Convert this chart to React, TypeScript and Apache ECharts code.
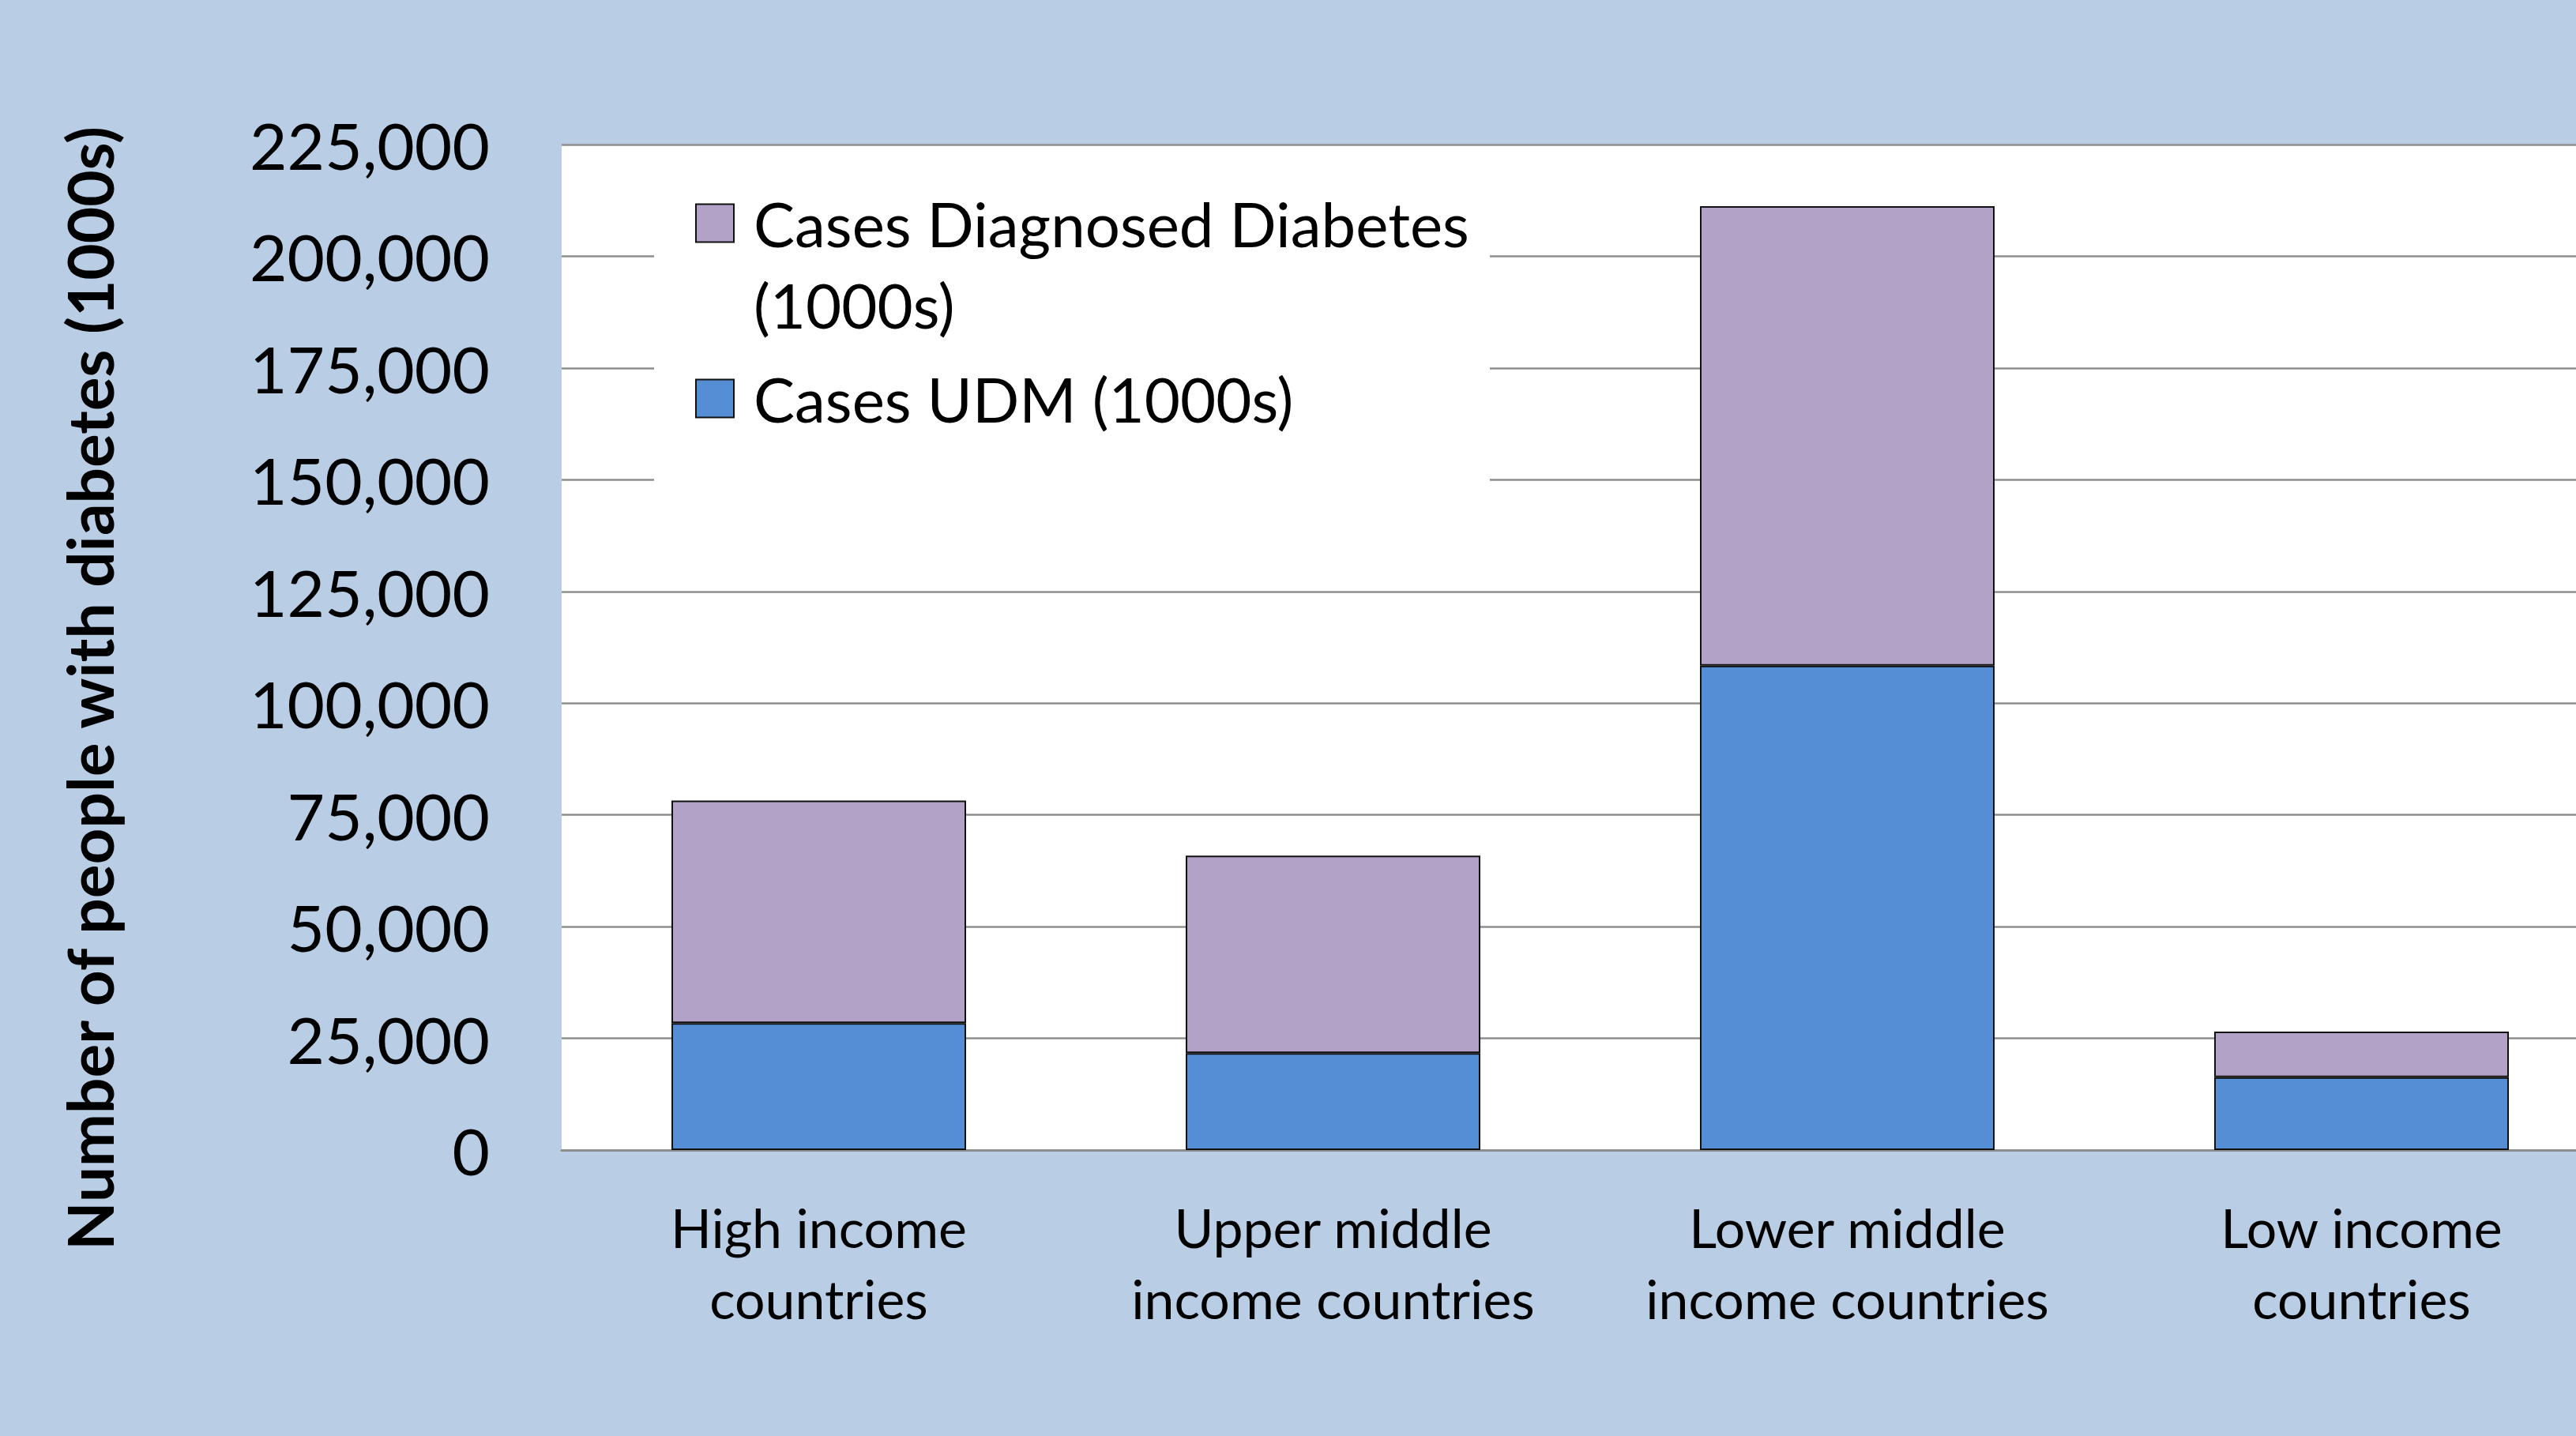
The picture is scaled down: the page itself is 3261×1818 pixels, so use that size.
import React, { useEffect, useRef } from "react";
import * as echarts from "echarts";

const categories = [
  "High income\ncountries",
  "Upper middle\nincome countries",
  "Lower middle\nincome countries",
  "Low income\ncountries",
];
const udmName = "Cases UDM (1000s)";
const diagName = "Cases Diagnosed Diabetes (1000s)";
const udmValues = [28400, 21700, 108400, 16300];
const diagnosedValues = [49800, 44200, 102800, 10200];
const yTicks = { min: 0, max: 225000, interval: 25000 };
const yAxisTitle = "Number of people with diabetes (1000s)";

const FONT = "Lato";

export default function App() {
  const ref = useRef<HTMLDivElement>(null);
  useEffect(() => {
    document.body.style.margin = "0";
    document.body.style.overflow = "hidden";
    document.documentElement.style.overflow = "hidden";
    const chart = echarts.init(ref.current!, null, { renderer: "svg" });
    const lh = 103;
    chart.setOption({
      animation: false,
      backgroundColor: "#b9cde5",
      grid: {
        left: 711,
        top: 183,
        right: 0,
        height: 1273,
        show: true,
        backgroundColor: "#ffffff",
        borderWidth: 0,
        containLabel: false,
      },
      graphic: [
        {
          type: "rect",
          z: 1,
          shape: { x: 828, y: 215, width: 1058, height: 470 },
          style: { fill: "#ffffff" },
          silent: true,
        },
      ],
      legend: {
        orient: "vertical",
        left: 880,
        top: 128,
        padding: 0,
        icon: "rect",
        itemWidth: 48,
        itemHeight: 48,
        itemGap: 16,
        textStyle: {
          fontFamily: FONT,
          fontSize: 78,
          color: "#000",
          lineHeight: lh,
          padding: [0, 0, 0, 20],
        },
        data: [diagName, udmName],
        formatter: (n: string) =>
          n === diagName ? "\u00a0\nCases Diagnosed Diabetes\n(1000s)" : n,
      },
      xAxis: {
        type: "category",
        data: categories,
        axisTick: { show: false },
        axisLine: { lineStyle: { color: "#8c8c8c", width: 3 } },
        axisLabel: {
          fontFamily: FONT,
          fontSize: 68,
          color: "#000",
          lineHeight: 90,
          margin: 52,
          interval: 0,
        },
      },
      yAxis: {
        type: "value",
        min: yTicks.min,
        max: yTicks.max,
        interval: yTicks.interval,
        axisLine: { show: false },
        axisTick: { show: false },
        splitLine: { lineStyle: { color: "#8e8e8e", width: 2.5 } },
        axisLabel: {
          fontFamily: FONT,
          fontSize: 82,
          color: "#000",
          margin: 91,
          formatter: (v: number) => v.toLocaleString("en-US"),
        },
        name: yAxisTitle,
        nameLocation: "middle",
        nameGap: 558,
        nameTextStyle: {
          fontFamily: FONT,
          fontWeight: "bold",
          fontSize: 80,
          color: "#000",
          padding: [0, 104, 0, 0],
        },
      },
      series: [
        {
          name: udmName,
          type: "bar",
          stack: "total",
          data: udmValues,
          barWidth: 373,
          itemStyle: { color: "#558ed5", borderColor: "#111", borderWidth: 2 },
        },
        {
          name: diagName,
          type: "bar",
          stack: "total",
          data: diagnosedValues,
          barWidth: 373,
          itemStyle: { color: "#b3a2c7", borderColor: "#111", borderWidth: 2 },
        },
      ],
    });
    return () => chart.dispose();
  }, []);
  return (
    <div
      ref={ref}
      style={{ position: "absolute", left: 0, top: 0, width: 3315, height: 1818 }}
    />
  );
}
